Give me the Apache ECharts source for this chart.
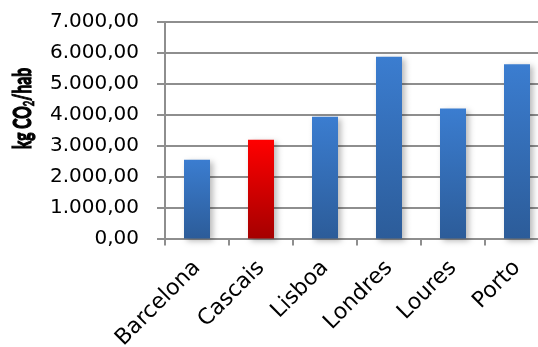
<!DOCTYPE html>
<html>
<head>
<meta charset="utf-8">
<script src="https://cdn.jsdelivr.net/npm/echarts@6/dist/echarts.min.js"></script>
<style>
  html, body { margin: 0; padding: 0; background: #ffffff; }
  #chart { width: 538px; height: 347px; }
</style>
</head>
<body>
<div id="chart"></div>
<script>
// Emissions per inhabitant by city (kg CO2 / hab)
const cities = ['Barcelona', 'Cascais', 'Lisboa', 'Londres', 'Loures', 'Porto'];
const emissions = [2550, 3190, 3940, 5880, 4200, 5630];
const highlightedCity = 'Cascais';
const yTicks = [0, 1000, 2000, 3000, 4000, 5000, 6000, 7000];

const blueFill = new echarts.graphic.LinearGradient(0, 0, 0, 1, [
  { offset: 0, color: '#3b7dd0' },
  { offset: 1, color: '#2c5c99' }
]);
const redFill = new echarts.graphic.LinearGradient(0, 0, 0, 1, [
  { offset: 0, color: '#ff0000' },
  { offset: 1, color: '#a50000' }
]);

// Portuguese number style: 7.000,00
function fmt(v) {
  const parts = v.toFixed(2).split('.');
  return parts[0].replace(/\B(?=(\d{3})+(?!\d))/g, '.') + ',' + parts[1];
}

const chart = echarts.init(document.getElementById('chart'), null, { renderer: 'canvas' });
const gridColor = '#8e8e8e';

chart.setOption({
  animation: false,
  backgroundColor: '#ffffff',
  // the last category runs past the right edge of the canvas
  grid: { left: 165, width: 384, top: 22, bottom: 108.5, containLabel: false, outerBoundsMode: 'none' },
  xAxis: {
    type: 'category',
    data: cities,
    axisLine: { lineStyle: { color: gridColor, width: 2 } },
    axisTick: { show: true, length: 7, lineStyle: { color: gridColor, width: 2 } },
    axisLabel: {
      rotate: 45,
      margin: 26,
      interval: 0,
      color: '#000000',
      fontFamily: 'DejaVu Sans',
      fontSize: 22
    }
  },
  yAxis: {
    type: 'value',
    min: yTicks[0],
    max: yTicks[yTicks.length - 1],
    interval: yTicks[1] - yTicks[0],
    axisLine: { show: true, lineStyle: { color: gridColor, width: 2 } },
    axisTick: { show: true, length: 8, lineStyle: { color: gridColor, width: 2 } },
    splitLine: { show: true, lineStyle: { color: gridColor, width: 2 } },
    axisLabel: {
      margin: 26,
      color: '#000000',
      fontFamily: 'DejaVu Sans',
      fontSize: 20,
      formatter: fmt
    }
  },
  graphic: [{
    // vertical axis title with subscript, widened horizontally
    type: 'group',
    x: 23,
    y: 108.5,
    scaleX: 1.55,
    children: [{
      type: 'text',
      x: 0,
      y: 0,
      rotation: Math.PI / 2,
      style: {
        text: '{m|kg CO}{s|2}{m|/hab}',
        align: 'center',
        verticalAlign: 'middle',
        fill: '#000000',
        rich: {
          m: { fontFamily: 'Lato', fontWeight: 'bold', fontSize: 15.5, fill: '#000000', stroke: '#000000', lineWidth: 0.8, lineHeight: 18 },
          s: { fontFamily: 'Lato', fontWeight: 'bold', fontSize: 9.5, fill: '#000000', stroke: '#000000', lineWidth: 0.5, lineHeight: 18, verticalAlign: 'bottom' }
        }
      }
    }]
  }],
  series: [{
    type: 'bar',
    barWidth: 26,
    data: emissions.map((v, i) => ({
      value: v,
      itemStyle: { color: cities[i] === highlightedCity ? redFill : blueFill }
    })),
    itemStyle: {
      shadowColor: 'rgba(0,0,0,0.28)',
      shadowBlur: 6,
      shadowOffsetX: 3,
      shadowOffsetY: 2
    }
  }]
});
</script>
</body>
</html>
